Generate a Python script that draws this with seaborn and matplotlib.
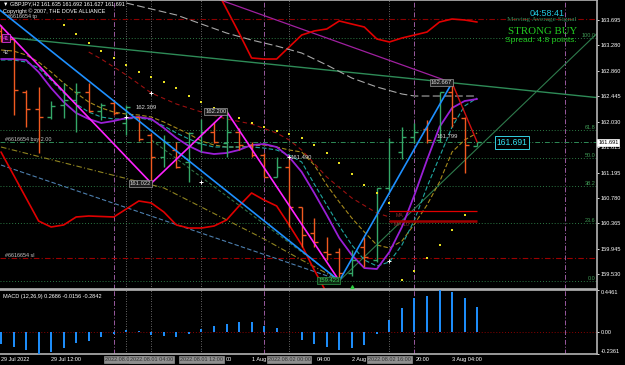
import numpy as np
import pandas as pd
import matplotlib
matplotlib.use("Agg")
import matplotlib.pyplot as plt
import matplotlib.transforms as mtransforms
import seaborn as sns

# GBPJPY H2 bars, 29 Jul 04:00 .. 3 Aug 04:00
bar_idx = list(range(39))
opens = [163.52, 163.38, 162.52, 162.237, 162.106, 162.303, 162.385, 162.516, 162.205, 162.336,
         162.008, 162.106, 161.811, 161.451, 161.566, 161.369, 161.680, 161.861, 161.680, 161.861,
         161.648, 161.484, 161.124, 161.288, 160.632, 160.207, 159.895, 159.895, 159.552, 159.978,
         159.765, 160.944, 161.533, 161.779, 161.910, 161.730, 162.516, 162.090, 161.635]
highs = [163.62, 163.40, 162.549, 162.598, 162.368, 162.663, 162.663, 162.663, 162.336, 162.385,
         162.309, 162.106, 161.844, 161.811, 161.697, 161.861, 162.074, 162.024, 162.200, 161.926,
         161.697, 161.517, 161.451, 161.490, 160.632, 160.452, 160.141, 159.961, 159.928, 160.141,
         160.944, 161.762, 161.943, 162.008, 162.057, 162.516, 162.667, 162.106, 161.692]
lows = [163.33, 162.139, 161.943, 161.517, 162.070, 162.090, 161.861, 162.188, 162.057, 162.139,
        161.811, 161.713, 161.022, 161.288, 161.271, 161.042, 161.533, 161.680, 161.451, 161.566,
        161.451, 161.124, 161.124, 160.305, 159.978, 159.978, 159.765, 159.423, 159.500, 159.650,
        159.730, 160.900, 161.419, 161.680, 161.680, 161.700, 161.943, 161.189, 161.627]
closes = [163.38, 162.549, 162.237, 162.100, 162.287, 162.385, 162.516, 162.205, 162.303, 162.172,
          162.270, 161.746, 161.451, 161.697, 161.288, 161.844, 161.861, 161.697, 161.861, 161.648,
          161.484, 161.124, 161.288, 160.632, 160.174, 160.059, 159.870, 159.552, 159.765, 159.814,
          160.944, 161.697, 161.779, 161.861, 161.730, 162.516, 162.090, 161.648, 161.691]

# moving averages / envelopes
ma_purple = [163.056, 163.056, 163.040, 162.843, 162.581, 162.352, 162.172, 162.074, 162.008, 162.041,
             162.090, 162.106, 162.074, 161.926, 161.762, 161.631, 161.533, 161.500, 161.517, 161.566,
             161.648, 161.664, 161.615, 161.451, 161.206, 160.862, 160.501, 160.125, 159.846, 159.633,
             159.617, 159.895, 160.305, 160.829, 161.402, 161.943, 162.254, 162.368, 162.401]
ma_teal = [163.040, 163.040, 163.007, 162.909, 162.712, 162.499, 162.319, 162.188, 162.106, 162.074,
           162.074, 162.090, 162.057, 161.959, 161.844, 161.746, 161.664, 161.615, 161.615, 161.615,
           161.615, 161.598, 161.566, 161.484, 161.369, 161.009, 160.665, 160.321, 160.010, 159.764,
           159.666, 159.732, 160.010, 160.419, 160.960, 161.451, 161.943, 162.287, 162.417]
ma_gold = [163.204, 163.187, 163.122, 163.007, 162.843, 162.663, 162.499, 162.352, 162.254, 162.188,
           162.155, 162.139, 162.106, 162.024, 161.926, 161.828, 161.713, 161.648, 161.615, 161.615,
           161.631, 161.648, 161.615, 161.566, 161.533, 161.320, 160.993, 160.714, 160.452, 160.223,
           160.010, 159.961, 160.075, 160.354, 160.665, 161.042, 161.533, 161.730, 161.844]
env_low = [161.533, 161.157, 160.780, 160.403, 160.305, 160.338, 160.469, 160.485, 160.477, 160.469,
           160.600, 160.731, 160.698, 160.550, 160.338, 160.288, 160.288, 160.321, 160.419, 160.649,
           160.862, 160.747, 160.649, 160.338, 160.010, 159.601, 159.224]
env_up_bars = list(range(17, 39))
env_up = [164.268, 163.875, 163.482, 163.073, 163.056, 163.056, 163.253, 163.449, 163.515, 163.548,
          163.679, 163.629, 163.580, 163.384, 163.335, 163.400, 163.449, 163.498, 163.662, 163.711,
          163.695, 163.662]
ma_red_bars = [7, 8, 10, 12, 14, 16, 18, 20, 22, 23, 24, 26, 28, 30, 31]
ma_red = [163.171, 163.056, 162.794, 162.499, 162.319, 162.188, 162.074, 161.992, 161.844, 161.730,
          161.566, 161.124, 160.780, 160.534, 160.469]
ma_grey_bars = [10, 12, 14, 16, 18, 20, 22, 24, 26, 28, 30, 32, 33, 38]
ma_grey = [163.973, 163.875, 163.777, 163.629, 163.482, 163.367, 163.269, 163.154, 162.958, 162.745,
           162.598, 162.483, 162.450, 162.450]

# zigzags and trend lines (bar, price)
zz_blue_bars = [-2, 27, 36]
zz_blue = [164.17, 159.423, 162.667]
zz_mag_bars = [-1, 12, 18, 27]
zz_mag = [163.81, 161.022, 162.200, 159.423]
zz_red_bars = [36, 38]
zz_red = [162.667, 161.697]
tl_purple_bars = [17, 36]
tl_purple = [164.06, 162.667]
tl_green_bars = [1, 36]
tl_green = [163.40, 162.667]
tl_rise_bars = [27, 47.6]
tl_rise = [159.423, 163.48]
tl_steel_bars = [0, 27]
tl_steel = [161.32, 159.437]
tl_olive_bars = [0, 13, 21, 24, 27]
tl_olive = [161.615, 160.944, 160.108, 159.764, 159.437]
tl_dkgreen_bars = [12, 27]
tl_dkgreen = [161.73, 159.437]

# parabolic SAR dots
sar_bars = list(range(5, 38))
sar = [163.613, 163.466, 163.318, 163.187, 163.073, 162.958, 162.843, 162.761, 162.680, 162.581,
       162.450, 162.352, 162.254, 162.172, 162.090, 162.008, 161.943, 161.877, 161.828, 161.762,
       161.648, 161.517, 161.353, 161.173, 160.993, 160.862, 160.698, 159.437, 159.584, 159.797,
       160.010, 160.256, 160.501]
fractal_bars = [10, 12, 16, 23, 31]
fractals = [162.106, 162.499, 161.042, 161.451, 159.748]

# horizontal levels
tp_level, sl_level, buy_level, bid = 163.711, 159.797, 161.700, 161.691
fib_prices = [163.40, 161.893, 161.443, 160.976, 160.378, 159.423]
fib_names = ["100.0", "61.8", "50.0", "38.2", "23.6", "0.0"]
ma_marks = [160.567, 160.403]

# MACD histogram
macd = [-0.13, -0.16, -0.19, -0.2361, -0.21, -0.17, -0.12, -0.10, -0.06, -0.027,
        0.02, 0.004, -0.03, -0.04, -0.06, -0.02, 0.03, 0.06, 0.085, 0.105,
        0.10, 0.065, 0.045, 0.003, -0.085, -0.13, -0.16, -0.19, -0.17, -0.14,
        -0.02, 0.13, 0.255, 0.36, 0.38, 0.4461, 0.42, 0.36, 0.2686]

price_ticks = [163.695, 163.280, 162.860, 162.445, 162.030, 161.615, 161.195, 160.780, 160.365, 159.945, 159.530]
vline_grey = [10, 12, 16, 23, 31]
vline_grey_txt = ["2022.08.01 00:00", "2022.08.01 04:00", "2022.08.01 12:00", "2022.08.02 00:00", "2022.08.02 16:00"]
vline_day = [9, 21, 33, 45]
# time labels, only the parts left visible between the grey line boxes
time_pos = [0, 4, 17.95, 20, 25.2, 28, 33.1, 36]
time_txt = ["29 Jul 2022", "29 Jul 12:00", "00", "1 Aug", "04:00", "2 Aug", "20:00", "3 Aug 04:00"]

sns.set_style("dark", {"axes.facecolor": "black", "figure.facecolor": "black"})
plt.rcParams['font.family'] = ['Liberation Sans', 'DejaVu Sans']

W, H = 625, 365
fig = plt.figure(figsize=(6.25, 3.65), dpi=100)
fig.patch.set_facecolor("black")
ax = fig.add_axes([0, 76 / H, 597 / W, 289 / H])
ax2 = fig.add_axes([0, 11 / H, 597 / W, 64 / H])

xlim = (-0.08, 47.57)
ax.set_xlim(*xlim)
ax.set_ylim(159.2895, 164.0225)
ax2.set_xlim(*xlim)
ax2.set_ylim(-0.2361, 0.4461)

for a in (ax, ax2):
    a.set_facecolor("black")
    a.grid(False)
    for s in a.spines.values():
        s.set_color("#b4b4b4")
        s.set_linewidth(1.2)
    a.spines["left"].set_visible(False)
    a.set_xticks([])
    a.yaxis.tick_right()
    a.tick_params(axis="y", colors="white", labelsize=4.1, length=1.6, width=0.6, pad=1.2, direction="out")
    for b in vline_grey:
        a.axvline(b, color="#8a8a8a", lw=0.6, ls=(0, (1, 2)), zorder=1)
    for b in vline_day:
        a.axvline(b, color="#9a5aa0", lw=0.7, ls=(0, (5, 2, 1, 2)), zorder=1)

ax.set_yticks(price_ticks)
ax.set_yticklabels([f"{v:.3f}" for v in price_ticks])

# horizontal levels
for lv in fib_prices:
    ax.axhline(lv, color="#2c7a44", lw=0.7, ls=(0, (1, 2)), zorder=1)
for lv, name in zip(fib_prices, fib_names):
    ax.text(0.997, lv, name, transform=mtransforms.blended_transform_factory(ax.transAxes, ax.transData),
            ha="right", va="bottom", color="#3f9a55", fontsize=4)
ax.axhline(tp_level, color="#8b0000", lw=0.8, ls=(0, (5, 2, 1, 2)), zorder=1)
ax.axhline(sl_level, color="#9b0000", lw=0.8, ls=(0, (5, 2, 1, 2)), zorder=1)
ax.axhline(buy_level, color="#2e8b57", lw=0.7, ls=(0, (5, 2, 1, 2)), zorder=1)

# trend lines / channels
sns.lineplot(x=tl_steel_bars, y=tl_steel, ax=ax, color="#4d7fae", lw=0.8, ls=(0, (4, 2)), sort=False, estimator=None)
sns.lineplot(x=tl_olive_bars, y=tl_olive, ax=ax, color="#8f8420", lw=0.8, ls=(0, (5, 2, 1, 2)), sort=False, estimator=None)
sns.lineplot(x=tl_dkgreen_bars, y=tl_dkgreen, ax=ax, color="#2f6f45", lw=0.8, ls=(0, (3, 2)), sort=False, estimator=None)
ax.axline((tl_green_bars[0], tl_green[0]), (tl_green_bars[1], tl_green[1]), color="#2e8b57", lw=1.0)
sns.lineplot(x=tl_rise_bars, y=tl_rise, ax=ax, color="#2e7b4c", lw=0.8, sort=False, estimator=None)
sns.lineplot(x=tl_purple_bars, y=tl_purple, ax=ax, color="#a020a0", lw=0.9, sort=False, estimator=None)

# envelopes and averages
sns.lineplot(x=bar_idx[:len(env_low)], y=env_low, ax=ax, color="#e00000", lw=1.2, estimator=None)
sns.lineplot(x=env_up_bars, y=env_up, ax=ax, color="#e00000", lw=1.2, estimator=None)
sns.lineplot(x=ma_red_bars, y=ma_red, ax=ax, color="#9b1010", lw=0.8, ls=(0, (4, 3)), estimator=None)
sns.lineplot(x=ma_grey_bars, y=ma_grey, ax=ax, color="#a8a8a8", lw=0.8, ls=(0, (7, 3)), estimator=None)
sns.lineplot(x=bar_idx, y=ma_gold, ax=ax, color="#a68a1c", lw=0.8, ls=(0, (4, 2)), estimator=None)
sns.lineplot(x=bar_idx, y=ma_teal, ax=ax, color="#1fa6a0", lw=0.8, ls=(0, (4, 2)), estimator=None)
sns.lineplot(x=bar_idx, y=ma_purple, ax=ax, color="#9a1fd6", lw=1.3, estimator=None)

# OHLC bars
df = pd.DataFrame({"bar": bar_idx, "open": opens, "high": highs, "low": lows, "close": closes})
up = df["close"] >= df["open"]
for mask, col in [(up, "#34a868"), (~up, "#f05a20")]:
    d = df[mask]
    ax.vlines(d["bar"], d["low"], d["high"], color=col, lw=1.0, zorder=4)
    ax.hlines(d["open"], d["bar"] - 0.32, d["bar"], color=col, lw=1.0, zorder=4)
    ax.hlines(d["close"], d["bar"], d["bar"] + 0.32, color=col, lw=1.0, zorder=4)

# zigzags
sns.lineplot(x=zz_blue_bars, y=zz_blue, ax=ax, color="#1e90ff", lw=1.2, sort=False, estimator=None, zorder=5)
sns.lineplot(x=zz_mag_bars, y=zz_mag, ax=ax, color="#ff22ff", lw=1.2, sort=False, estimator=None, zorder=5)
sns.lineplot(x=zz_red_bars, y=zz_red, ax=ax, color="#d01010", lw=1.0, sort=False, estimator=None, zorder=5)

# MA marker lines
ax.hlines(ma_marks[0], 31, 38, color="#e00000", lw=0.9, zorder=3)
ax.hlines(ma_marks[1], 31, 38, color="#a00000", lw=1.8, zorder=3)
ax.text(31.5, ma_marks[0] - 0.03, "MA", color="#8a3030", fontsize=3.8, va="top")
ax.text(31.4, ma_marks[1] - 0.02, "MA 10", color="#8a3030", fontsize=3.8, va="top")

# SAR, fractals
sns.scatterplot(x=sar_bars, y=sar, ax=ax, color="#e8e020", marker="s", s=2.2, linewidth=0, zorder=6)
sns.scatterplot(x=fractal_bars, y=fractals, ax=ax, color="white", marker="+", s=6, linewidth=0.7, zorder=6)
ax.scatter([28], [159.322], color="#2ecc40", marker="^", s=6, zorder=6)

# price labels on zigzag points
box_grey = dict(boxstyle="square,pad=0.15", fc="#1c1c1c", ec="#9a9a9a", lw=0.5)
ax.text(12, 161.022, "161.022", ha="right", va="center", color="#d8d8d8", fontsize=4.2, bbox=box_grey, zorder=7)
ax.text(18, 162.200, "162.200", ha="right", va="center", color="#d8d8d8", fontsize=4.2, bbox=box_grey, zorder=7)
ax.text(36, 162.667, "162.667", ha="right", va="center", color="#d8d8d8", fontsize=4.2, bbox=box_grey, zorder=7)
ax.text(27, 159.423, "159.423", ha="right", va="center", color="#3fcf5f", fontsize=4.2, zorder=7,
        bbox=dict(boxstyle="square,pad=0.15", fc="#0d2a12", ec="#2e9b4a", lw=0.5))
ax.text(10.7, 162.254, "162.309", ha="left", va="center", color="#d8d8d8", fontsize=4.2, zorder=7)
ax.text(23.1, 161.451, "161.490", ha="left", va="center", color="#d8d8d8", fontsize=4.2, zorder=7)
ax.text(34.8, 161.779, "161.799", ha="left", va="center", color="#d8d8d8", fontsize=4.2, zorder=7)

# bid labels
ax.text(40.8, bid, "161.691", ha="center", va="center", color="#33e0f0", fontsize=6.2, zorder=8,
        bbox=dict(boxstyle="square,pad=0.2", fc="black", ec="#33d0e0", lw=0.7))
ax.text(1.002, bid, "161.691", transform=mtransforms.blended_transform_factory(ax.transAxes, ax.transData),
        ha="left", va="center", color="black", fontsize=4.1, clip_on=False, zorder=9,
        bbox=dict(boxstyle="square,pad=0.15", fc="white", ec="white", lw=0.5))

# order labels
ax.text(0.012, tp_level, "#6616654 tp", transform=mtransforms.blended_transform_factory(ax.transAxes, ax.transData),
        color="#c8c8c8", fontsize=3.9, va="bottom")
ax.text(0.008, buy_level, "#6616654 buy 2.00", transform=mtransforms.blended_transform_factory(ax.transAxes, ax.transData),
        color="#c8c8c8", fontsize=3.9, va="bottom")
ax.text(0.008, sl_level, "#6616654 sl", transform=mtransforms.blended_transform_factory(ax.transAxes, ax.transData),
        color="#c8c8c8", fontsize=3.9, va="bottom")

# header texts
fig.text(3 / W, 1 - 4 / H, "\u25bc GBPJPY,H2 161.635 161.692 161.627 161.691", color="white", fontsize=4, va="center",
         family=["Liberation Sans", "DejaVu Sans"])
fig.text(3 / W, 1 - 11 / H, "Copyright \u00a9 2007, THE DOVE ALLIANCE", color="white", fontsize=4, va="center")
fig.text(3 / W, 1 - 38 / H, "41", color="#ff40ff", fontsize=4, va="center",
         bbox=dict(boxstyle="square,pad=0.2", fc="#300030", ec="#ff40ff", lw=0.5))
fig.text(3 / W, 1 - 52 / H, "42", color="#d0d0d0", fontsize=4, va="center")

fig.text(547 / W, 1 - 13 / H, "04:58:41", color="#22c8e0", fontsize=6.5, ha="center", va="center")
fig.text(577 / W, 1 - 20 / H, "Moving Average Signal", color="#2e8b57", fontsize=5.2, ha="right", va="center",
         family="Liberation Serif")
fig.text(577 / W, 1 - 31 / H, "STRONG BUY", color="#22cc22", fontsize=7.8, ha="right", va="center",
         family="Liberation Serif")
fig.text(577 / W, 1 - 40 / H, "Spread: 4.8 points.", color="#22cc22", fontsize=6.1, ha="right", va="center")

# MACD panel
ax2.axhline(0, color="#8b0000", lw=0.7, ls=(0, (1, 2)), zorder=1)
ax2.vlines(bar_idx, 0, macd, color="#1e90ff", lw=1.4, zorder=3)
ax2.set_yticks([0.4461, 0.0, -0.2361])
ax2.set_yticklabels(["0.4461", "0.00", "-0.2361"])
tl = ax2.get_yticklabels()
tl[0].set_va("top")
tl[2].set_va("bottom")
ax2.text(0.005, 0.93, "MACD (12,26,9) 0.2686 -0.0156 -0.2842", transform=ax2.transAxes, color="white",
         fontsize=4, va="top")

# time axis
trans_t = mtransforms.blended_transform_factory(ax2.transData, ax2.transAxes)
for b, t in zip(time_pos, time_txt):
    ax2.text(b, -0.09, t, transform=trans_t, color="white", fontsize=4, ha="left", va="center", clip_on=False)
for b, t in zip(vline_grey, vline_grey_txt):
    ax2.text(b, -0.09, t, transform=trans_t, color="#303030", fontsize=4, ha="center", va="center", clip_on=False,
             bbox=dict(boxstyle="square,pad=0.15", fc="#8e8e8e", ec="#8e8e8e", lw=0.5), zorder=10)

for a in (ax, ax2):
    a.set_xlabel("")
    a.set_ylabel("")
    if a.get_legend() is not None:
        a.get_legend().remove()

fig.savefig("out.png", dpi=100, facecolor="black")
